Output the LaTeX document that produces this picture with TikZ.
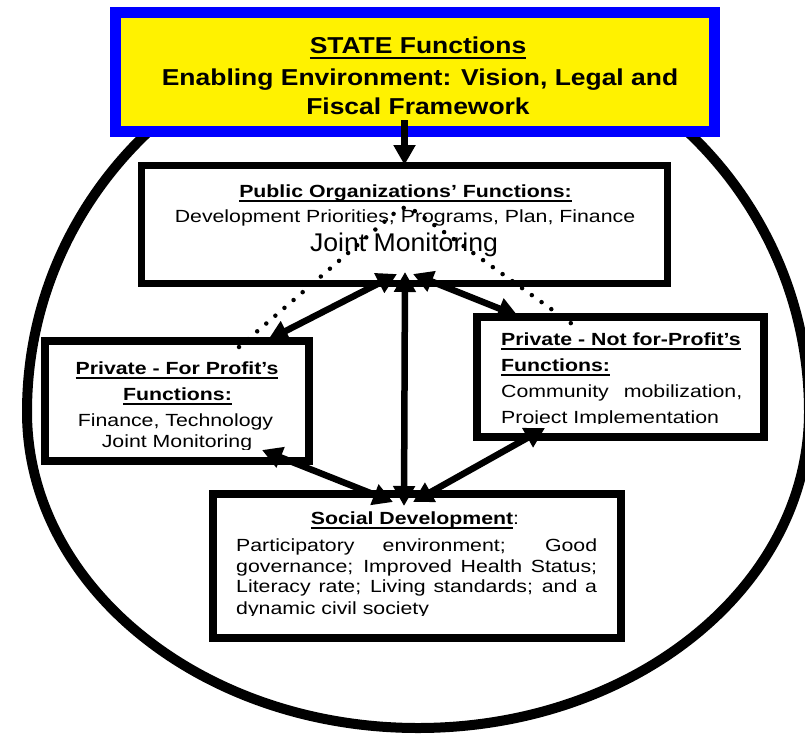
\documentclass[tikz,border=0pt]{standalone}
\usepackage{fontspec}
\setmainfont{Liberation Sans}
\usepackage{graphicx}
\usetikzlibrary{arrows.meta}
\newsavebox\ulbox
\newcommand\ulx[2][4.6pt]{\sbox\ulbox{#2}\rlap{\rule[-#1]{\wd\ulbox}{1.9pt}}\usebox\ulbox}
\newcommand\smtxt[1]{\scalebox{1.21}[1]{\fontsize{17.6}{20}\selectfont #1}}
\newcommand\bgtxt[1]{\scalebox{1.15}[1]{\fontsize{23}{26}\selectfont\bfseries #1}}
\newcommand\jmtxt[1]{\scalebox{1.04}[1]{\fontsize{25.6}{28}\selectfont #1}}
\begin{document}
\begin{tikzpicture}[x=1pt,y=-1pt,
  box/.style={draw=black, fill=white, line width=8pt, inner sep=0pt},
  lbl/.style={inner sep=0pt, anchor=base},
  lblw/.style={inner sep=0pt, anchor=base west},
  conn/.style={line width=6.5pt, >={Triangle[length=20pt,width=21pt]}},
  dots/.style={line width=4.5pt, line cap=round, dash pattern=on 0pt off 12pt, rounded corners=10pt}]
\useasboundingbox (0,0) rectangle (805,737);
\fill[white] (0,0) rectangle (805,737);
% big oval
\draw[line width=10pt] (27,412) .. controls (27,198.3) and (202,25) .. (418,25)
  .. controls (634,25) and (809,198.3) .. (809,412)
  .. controls (809,586.5) and (634,728) .. (418,728)
  .. controls (202,728) and (27,586.5) .. (27,412) -- cycle;
% state box
\node[draw=blue, fill=yellow, line width=11pt, minimum width=599pt, minimum height=119pt, inner sep=0pt] (state) at (415,72) {};
\node[lbl] (st1) at (418,53.3) {\bgtxt{\ulx[6pt]{STATE Functions}}};
\node[lbl] (st2) at (420,85) {\bgtxt{Enabling Environment: Vision, Legal and}};
\node[lbl] (st3) at (418,114) {\bgtxt{Fiscal Framework}};
% public box
\node[box, line width=7pt, minimum width=526pt, minimum height=118pt] (pub) at (404.5,224.5) {};
\node[lbl] (pub1) at (405.5,197) {\smtxt{\bfseries\ulx{Public Organizations’ Functions:}}};
\node[lbl] (pub2) at (405,222.7) {\smtxt{Development Priorities, Programs, Plan, Finance}};
\node[lbl] (pub3) at (404,251.7) {\jmtxt{Joint Monitoring}};
% for profit box
\node[box, minimum width=264pt, minimum height=120pt] (fp) at (177,401) {};
\node[lbl] (fp1) at (177,374) {\smtxt{\bfseries\ulx{Private - For Profit’s}}};
\node[lbl] (fp2) at (177.5,400) {\smtxt{\bfseries\ulx{Functions:}}};
\node[lbl] (fp3) at (175.5,426) {\smtxt{Finance, Technology}};
\begin{scope}
\clip (50,430) rectangle (305,449);
\node[lbl] (fp4) at (177,447.8) {\smtxt{Joint Monitoring}};
\end{scope}
% not for profit box
\node[box, minimum width=287pt, minimum height=120pt] (nfp) at (620.5,377) {};
\node[lblw] (nfp1) at (501,345) {\smtxt{\bfseries\ulx{Private - Not for-Profit’s}}};
\node[lblw] (nfp2) at (501,371) {\smtxt{\bfseries\ulx{Functions:}}};
\node[lblw] (nfp3) at (501,397) {\smtxt{\makebox[199.2pt][s]{Community mobilization,}}};
\begin{scope}
\clip (480,405) rectangle (760,423.8);
\node[lblw] (nfp4) at (501,423) {\smtxt{Project Implementation}};
\end{scope}
% social box
\node[box, minimum width=408pt, minimum height=144pt] (soc) at (417,566) {};
\node[lbl] (soc1) at (415,524) {\smtxt{{\bfseries\ulx{Social Development}}:}};
\node[lblw] (soc2) at (236,551) {\smtxt{\makebox[298.3pt][s]{Participatory environment; Good}}};
\node[lblw] (soc3) at (236,572) {\smtxt{\makebox[298.3pt][s]{governance; Improved Health Status;}}};
\node[lblw] (soc4) at (236,592.7) {\smtxt{\makebox[298.3pt][s]{Literacy rate; Living standards; and a}}};
\begin{scope}
\clip (220,598) rectangle (615,615);
\node[lblw] (soc5) at (236,614) {\smtxt{dynamic civil society}};
\end{scope}
% dotted arc
\coordinate (dL) at (239,347);
\coordinate (dT) at (405,204);
\coordinate (dR) at (572,324);
\draw[dots] (dL) -- (dT) -- (dR);
% connector ends
\coordinate (stB) at (404.5,120);
\coordinate (pubT) at (404.5,165);
\coordinate (pubB1) at (397,274);
\coordinate (pubB2) at (405,272);
\coordinate (pubB3) at (413,274);
\coordinate (fpT) at (268,340);
\coordinate (fpB) at (262,450);
\coordinate (nfpT) at (518,316);
\coordinate (nfpB) at (545,428);
\coordinate (socT1) at (393,502);
\coordinate (socT2) at (404,506);
\coordinate (socT3) at (413,502);
\draw[conn,->] (stB) -- (pubT);
\draw[conn,<->] (fpT) -- (pubB1);
\draw[conn,<->] (pubB2) -- (socT2);
\draw[conn,<->] (pubB3) -- (nfpT);
\draw[conn,<->] (fpB) -- (socT1);
\draw[conn,<->] (socT3) -- (nfpB);
\end{tikzpicture}
\end{document}
